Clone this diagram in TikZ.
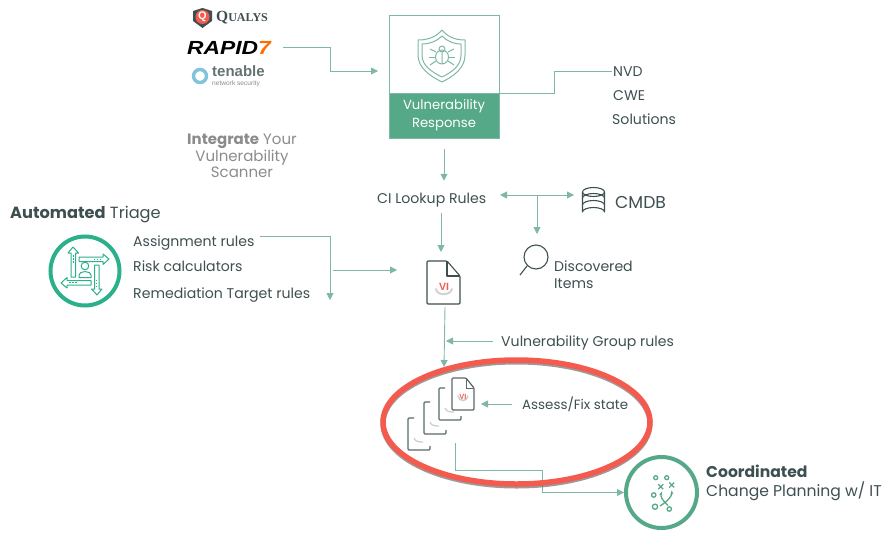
\documentclass[tikz,border=0pt]{standalone}
\usepackage{fontspec}
\setmainfont{Poppins}
\newfontfamily\logofont{Liberation Sans}
\newfontfamily\qualysfont{Liberation Serif}
\usetikzlibrary{arrows.meta}
\definecolor{flowgreen}{HTML}{7FB8A2}
\definecolor{boxgreen}{HTML}{55A888}
\definecolor{ringgreen}{HTML}{2BB08C}
\definecolor{inkdark}{HTML}{3E4F50}
\definecolor{inkgray}{HTML}{8A8C8C}
\definecolor{alertred}{HTML}{F45B4E}
\definecolor{tenableblue}{HTML}{7FC4D8}
\tikzset{
  flow/.style={draw=flowgreen, line width=0.9pt, -{Triangle[length=7pt, width=7pt]}},
  flowline/.style={draw=flowgreen, line width=0.9pt},
  lbl/.style={anchor=west, inner sep=0pt, text=inkdark, font={\fontsize{14.1}{17}\selectfont}},
  grouplbl/.style={inner sep=0pt, text=inkgray, align=center, font={\fontsize{15}{16.5}\selectfont}},
  iconline/.style={draw=inkdark, line width=1.1pt, line join=round},
  bugline/.style={draw=flowgreen, line width=1pt, line join=round},
}
\begin{document}
\begin{tikzpicture}[x=1pt, y=-1pt]
  \useasboundingbox (0,0) rectangle (890,541);
  % scanner logos
  \fill[inkdark] (193,11) -- (202.5,8) -- (212,11) -- (212,21) -- (202.5,28) -- (193,21) -- cycle;
  \fill[alertred] (202.5,17) circle (7);
  \node[inner sep=0pt, text=white, font={\logofont\bfseries\fontsize{11}{11}\selectfont}] (qualysq) at (202.5,17) {Q};
  \node[anchor=west, inner sep=0pt, text=inkdark, font={\qualysfont\bfseries\fontsize{15.5}{15}\selectfont}] (qualys) at (216,18) {Q\fontsize{12}{15}\selectfont UALYS};
  \node[anchor=west, inner sep=0pt, font={\logofont\bfseries\itshape\fontsize{19}{18}\selectfont}] (rapid) at (187,47.5) {\scalebox{1.2}[1]{RAPID\textcolor{orange!85!red}{7}}};
  \draw[tenableblue, line width=3.4pt] (200,76) circle (6.5);
  \node[anchor=west, inner sep=0pt, text=inkdark!80, font={\logofont\bfseries\fontsize{15}{15}\selectfont}] (tenable) at (212,71.5) {tenable};
  \node[anchor=west, inner sep=0pt, text=inkgray, font={\logofont\fontsize{6.6}{6}\selectfont}] (tenablesub) at (212,83.5) {network security};
  \node[grouplbl] (integrate) at (242,156) {\textbf{Integrate} Your\\Vulnerability\\Scanner};
  % vulnerability response box
  \node[draw=flowgreen, line width=1pt, minimum width=110pt, minimum height=78pt, inner sep=0pt] (respicon) at (444,54) {};
  \node[draw=flowgreen, fill=boxgreen, line width=1pt, minimum width=110pt, minimum height=45pt, inner sep=0pt, text=white, align=center, font={\fontsize{13.2}{18}\selectfont}] (response) at (444,115.5) {Vulnerability\\Response};
  % shield and bug
  \draw[bugline] (442,30) .. controls (436,37) and (428,40) .. (418,40) -- (418,55) .. controls (418,68) and (430,76) .. (442,82) .. controls (454,76) and (465,68) .. (465,55) -- (465,40) .. controls (455,40) and (448,37) .. (442,30) -- cycle;
  \draw[bugline] (442,36) .. controls (437,41) and (430,44) .. (422,44) -- (422,55) .. controls (422,66) and (432,72) .. (442,77) .. controls (452,72) and (461,66) .. (461,55) -- (461,44) .. controls (453,44) and (447,41) .. (442,36) -- cycle;
  \draw[bugline] (442,49) circle (3) (442,57) ellipse (6.5 and 7) (442,51) -- (442,64);
  \foreach \sx in {-1,1} {
    \draw[bugline] (442+\sx*6,52) -- (442+\sx*12,49);
    \draw[bugline] (442+\sx*6,57) -- (442+\sx*13,57);
    \draw[bugline] (442+\sx*6,61) -- (442+\sx*12,65);
  }
  % right of box
  \foreach \t/\n/\xx/\yy in {NVD/nvd/613/72,CWE/cwe/613/96,Solutions/solutions/612/119} {
    \node[lbl] (\n) at (\xx,\yy) {\t};
  }
  % ci lookup row
  \node[lbl] (cilookup) at (377,200) {CI Lookup Rules};
  \node[lbl, font={\fontsize{17.2}{18}\selectfont}] (cmdb) at (615,202) {CMDB};
  \draw[iconline] (582.5,192) -- (582.5,212) arc[start angle=180, end angle=360, x radius=11, y radius=4.5] -- (604.5,192);
  \draw[iconline] (593.5,192) ellipse (11 and 4.5);
  \draw[iconline] (582.5,198) arc[start angle=180, end angle=360, x radius=11, y radius=4.5];
  \draw[iconline] (582.5,205) arc[start angle=180, end angle=360, x radius=11, y radius=4.5];
  \draw[iconline] (536,257) circle (12);
  \draw[iconline] (527,266) -- (520,275);
  \node[lbl, align=left, font={\fontsize{14.1}{17}\selectfont}] (discovered) at (554,274.5) {Discovered\\Items};
  % triage block
  \node[anchor=west, inner sep=0pt, text=inkdark, font={\fontsize{16.2}{18}\selectfont}] (triage) at (10,215) {\textbf{Automated} Triage};
  \foreach \t/\n/\yy in {Assignment rules/assign/243,Risk calculators/risk/266,Remediation Target rules/remed/295} {
    \node[lbl] (\n) at (133,\yy) {\t};
  }
  \node[draw=ringgreen, line width=4pt, circle, minimum size=69pt, inner sep=0pt] (triagering) at (85,271) {};
  % person and four arrows
  \begin{scope}[draw=ringgreen, line width=1pt, line join=round]
    \draw (85,266) circle (3.8);
    \draw (79,277.5) -- (79,275) .. controls (79,270.5) and (91,270.5) .. (91,275) -- (91,277.5) -- cycle;
    \foreach \a in {0,-90,-180,-270} {
      \begin{scope}[rotate around={\a:(85,271)}]
        \draw (73,247) -- (68,253) -- (71,253) -- (71,277) -- (75.5,277) -- (75.5,253) -- (78.5,253) -- cycle;
        \draw[line width=0.7pt, dash pattern=on 1.5pt off 1.5pt] (73.2,255) -- (73.2,264);
      \end{scope}
    }
  \end{scope}
  % finding document
  \draw[iconline, fill=white, rounded corners=1pt] (427,261) -- (447,261) -- (460,276) -- (460,304) -- (427,304) -- cycle;
  \draw[iconline] (447,261) -- (447,276) -- (460,276);
  \draw[gray!35, line width=2pt, line cap=round] (436,289) .. controls (437,296) and (450,296) .. (452,289);
  \node[inner sep=0pt, text=alertred, font={\logofont\bfseries\fontsize{10.5}{10}\selectfont}] (findingvi) at (444,287) {VI};
  \node[lbl] (grouprules) at (501,343) {Vulnerability Group rules};
  \node[lbl, font={\fontsize{13.4}{16}\selectfont}] (assess) at (522,404) {Assess/Fix state};
  % stack of documents
  \foreach \xx/\yy in {408/418,424/402,439/388} {
    \draw[draw=inkdark!85, line width=1.2pt, line join=round, rounded corners=1pt] (\xx+6,\yy) -- (\xx,\yy) -- (\xx,\yy+32) -- (\xx+22,\yy+32) -- (\xx+22,\yy+28);
    \draw[gray!40, line width=1.2pt] (\xx+6,\yy+20) .. controls (\xx+7,\yy+24) and (\xx+12,\yy+24) .. (\xx+15,\yy+24);
  }
  \draw[draw=inkdark!85, fill=white, line width=1.2pt, line join=round, rounded corners=1pt] (452,378) -- (466,378) -- (474,388) -- (474,410) -- (452,410) -- cycle;
  \draw[draw=inkdark!85, line width=0.8pt] (466,378) -- (466,388) -- (474,388);
  \draw[gray!40, line width=1.4pt, line cap=round] (458,396) .. controls (459,402) and (467,402) .. (468,396);
  \node[inner sep=0pt, text=alertred, font={\logofont\bfseries\fontsize{7.5}{7}\selectfont}] (stackvi) at (463,397) {VI};
  % coordinated block
  \node[draw=boxgreen, line width=4pt, circle, minimum size=71pt, inner sep=0pt] (planring) at (661.5,492.5) {};
  \begin{scope}[draw=boxgreen, line width=1.3pt]
    \draw (655.7,477.7) circle (2) (666.7,477.7) circle (2) (653.7,495) circle (2.2) (655,506.7) circle (2.6) (669.3,509) circle (2.2);
    \draw (658.2,484.2) -- (663.2,489.2) (663.2,484.2) -- (658.2,489.2) (669.2,482.5) -- (674.2,487.5) (674.2,482.5) -- (669.2,487.5);
    \draw[-{Stealth[length=4pt]}] (668,505.5) .. controls (661,499) and (660.5,496) .. (661.7,491.5);
    \draw[-{Stealth[length=4pt]}] (660,506) .. controls (668,501) and (672,496) .. (671.7,490.5);
  \end{scope}
  \node[anchor=west, inner sep=0pt, text=inkdark, align=left, font={\fontsize{15.6}{19}\selectfont}] (coordinated) at (706,483) {\textbf{Coordinated}\\Change Planning w/ IT};
  % bend points
  \coordinate (rapidend) at (283,47);
  \coordinate (rapidbend) at (330,71);
  \coordinate (respin) at (378,71);
  \coordinate (respout) at (554,71);
  \coordinate (nvdend) at (612,71);
  \coordinate (fork) at (537,195);
  \coordinate (forkend) at (537,234);
  \coordinate (cileft) at (500,195);
  \coordinate (ciright) at (574,195);
  \coordinate (cidown) at (441,213);
  \coordinate (docin) at (441,252);
  \coordinate (assignstart) at (260,236);
  \coordinate (assignend) at (330,300);
  \coordinate (triagestart) at (333,270);
  \coordinate (triageend) at (397,270);
  \coordinate (docout) at (445,307);
  \coordinate (stackin) at (444,367);
  \coordinate (groupstart) at (493,341);
  \coordinate (groupjoin) at (446,341);
  \coordinate (assessend) at (481,404);
  \coordinate (stackout) at (455,443);
  \coordinate (stackbend) at (542,470);
  % connectors
  \draw[flow] (rapidend) -| (rapidbend) -- (respin);
  \draw[flowline] (respicon.south east) -| (respout) -- (nvdend);
  \draw[flow, shorten <=10pt, shorten >=12pt] (response.south) -- (cilookup.north -| response.south);
  \draw[flow, {Triangle[length=7pt, width=7pt]}-{Triangle[length=7pt, width=7pt]}] (cileft) -- (ciright);
  \draw[flow] (fork) -- (forkend);
  \draw[flow] (cidown) -- (docin);
  \draw[flow] (assignstart) -| (assignend);
  \draw[flow] (triagestart) -- (triageend);
  \draw[flow] (docout) -- (stackin);
  \draw[flow] (groupstart) -- (groupjoin);
  \draw[flow, shorten <=10pt] (assess.west) -- (assessend);
  \draw[flow] (stackout) |- (stackbend) |- (planring.west);
  % highlight ring
  \draw[gray!70!black, opacity=0.6, line width=5pt] (516.5,424) ellipse (133.5 and 62);
  \draw[alertred, line width=5.5pt] (516.5,422) ellipse (133.5 and 62);
\end{tikzpicture}
\end{document}
